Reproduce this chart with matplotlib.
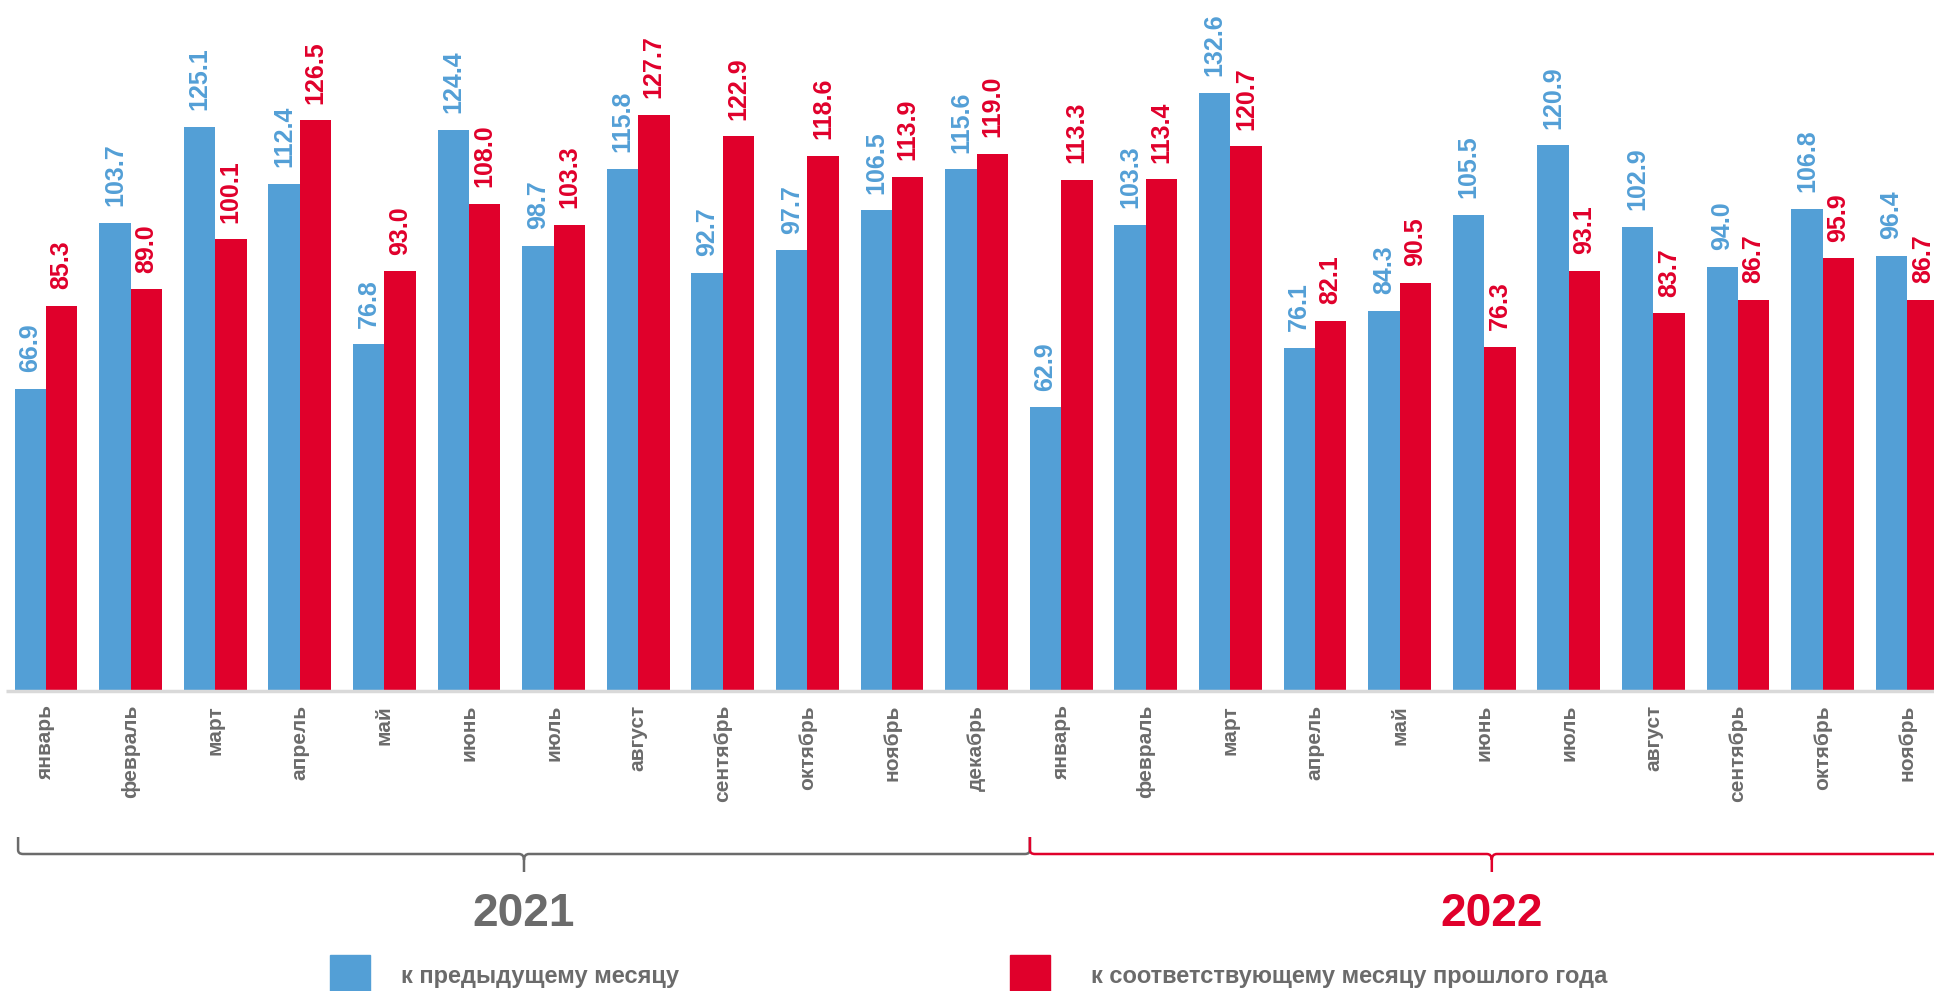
import matplotlib
matplotlib.use('Agg')
import matplotlib.pyplot as plt
import numpy as np
from matplotlib.path import Path
from matplotlib.patches import PathPatch, Rectangle
from matplotlib.transforms import blended_transform_factory

plt.rcParams['font.family'] = ['Liberation Sans', 'DejaVu Sans']

months = ['январь', 'февраль', 'март', 'апрель', 'май', 'июнь', 'июль',
          'август', 'сентябрь', 'октябрь', 'ноябрь', 'декабрь',
          'январь', 'февраль', 'март', 'апрель', 'май', 'июнь', 'июль',
          'август', 'сентябрь', 'октябрь', 'ноябрь']
# к предыдущему месяцу
prev_month = [66.9, 103.7, 125.1, 112.4, 76.8, 124.4, 98.7, 115.8, 92.7, 97.7, 106.5, 115.6,
              62.9, 103.3, 132.6, 76.1, 84.3, 105.5, 120.9, 102.9, 94.0, 106.8, 96.4]
# к соответствующему месяцу прошлого года
prev_year = [85.3, 89.0, 100.1, 126.5, 93.0, 108.0, 103.3, 127.7, 122.9, 118.6, 113.9, 119.0,
             113.3, 113.4, 120.7, 82.1, 90.5, 76.3, 93.1, 83.7, 86.7, 95.9, 86.7]
years = ['2021', '2022']
legend_labels = ['к предыдущему месяцу', 'к соответствующему месяцу прошлого года']

BLUE = '#539fd6'
RED = '#e0002b'
GREY = '#6b6b6b'

W, H = 1934, 991
fig = plt.figure(figsize=(W / 100, H / 100), dpi=100)
ax = fig.add_axes([0, (H - 691) / H, 1, 691 / H])

x = np.arange(len(months))
bw = 0.37
b1 = ax.bar(x - bw / 2, prev_month, bw, color=BLUE)
b2 = ax.bar(x + bw / 2, prev_year, bw, color=RED)

for bars, vals, col in [(b1, prev_month, BLUE), (b2, prev_year, RED)]:
    for r, v in zip(bars, vals):
        ax.annotate(f'{v:.1f}', (r.get_x() + r.get_width() / 2, v),
                    xytext=(0, 12), textcoords='offset points',
                    rotation=90, ha='center', va='bottom',
                    fontsize=18, fontweight='bold', color=col,
                    annotation_clip=False)

ax.set_xlim(-46 / 84.6, (W - 46) / 84.6)
ax.set_ylim(0, 691 / 4.512)
for s in ax.spines.values():
    s.set_visible(False)
ax.set_yticks([])
ax.set_xticks(x)
ax.set_xticklabels(months, rotation=90, fontsize=15, fontweight='bold', color=GREY, va='top')
ax.tick_params(axis='x', length=0, pad=10)
ax.hlines(0, -0.47, len(months), color='#d9d9d9', lw=2.5, clip_on=False, zorder=3)

# year braces
tr = blended_transform_factory(ax.transData, fig.transFigure)
def fy(px):
    return 1 - px / H

def brace(x0, x1, col):
    xm = (x0 + x1) / 2
    r = 0.06
    verts = [(x0, fy(837)), (x0, fy(850)), (x0, fy(854)), (x0 + r, fy(854)),
             (xm - r, fy(854)), (xm, fy(854)), (xm, fy(860)),
             (xm, fy(872)),
             (xm, fy(860)), (xm, fy(854)), (xm + r, fy(854)),
             (x1 - r, fy(854)), (x1, fy(854)), (x1, fy(850)), (x1, fy(837))]
    codes = [Path.MOVETO, Path.LINETO, Path.CURVE3, Path.CURVE3,
             Path.LINETO, Path.CURVE3, Path.CURVE3,
             Path.LINETO,
             Path.MOVETO, Path.CURVE3, Path.CURVE3,
             Path.LINETO, Path.CURVE3, Path.CURVE3, Path.LINETO]
    ax.add_patch(PathPatch(Path(verts, codes), transform=tr, fill=False,
                           edgecolor=col, lw=1.8, clip_on=False))
    return xm

xm1 = brace(-0.33, 11.63, GREY)
xm2 = brace(11.63, 22.55, RED)
ax.text(xm1, fy(914), years[0], transform=tr, ha='center', va='center',
        fontsize=33, fontweight='bold', color=GREY)
ax.text(xm2, fy(914), years[1], transform=tr, ha='center', va='center',
        fontsize=33, fontweight='bold', color=RED)

# legend
for x0, col, txt, tx in [(330, BLUE, legend_labels[0], 401), (1010, RED, legend_labels[1], 1091)]:
    fig.patches.append(Rectangle((x0 / W, fy(1000)), 40 / W, 45 / H,
                                 transform=fig.transFigure, color=col))
    fig.text(tx / W, fy(977), txt, ha='left', va='center', fontsize=17,
             fontweight='bold', color=GREY)

fig.savefig('out.png', dpi=100)
